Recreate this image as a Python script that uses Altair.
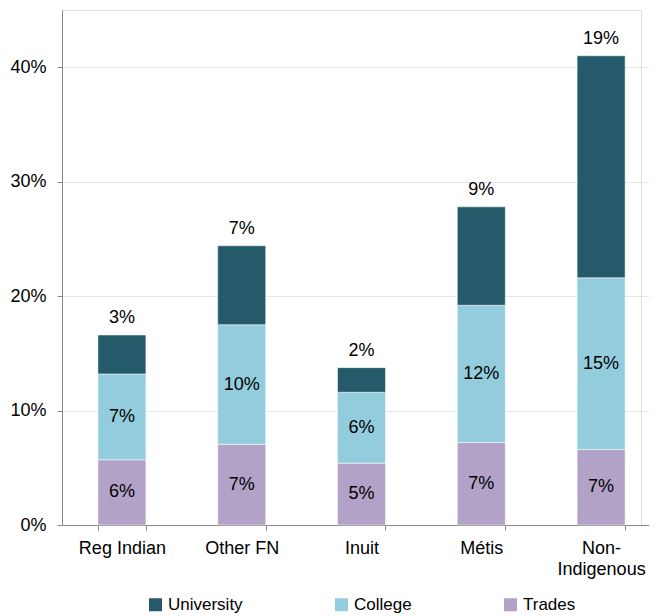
import altair as alt
import pandas as pd

groups = ["Reg Indian", "Other FN", "Inuit", "Métis", "Non-Indigenous"]
trades = [5.7, 7.05, 5.4, 7.2, 6.6]
college = [7.5, 10.45, 6.2, 12.0, 15.0]
university = [3.4, 6.9, 2.15, 8.6, 19.4]
trades_lbl = ["6%", "7%", "5%", "7%", "7%"]
college_lbl = ["7%", "10%", "6%", "12%", "15%"]
univ_lbl = ["3%", "7%", "2%", "9%", "19%"]
series = ["University", "College", "Trades"]
colors = ["#245a69", "#93cddd", "#b3a2c7"]

rows = []
for i, g in enumerate(groups):
    base = 0.0
    for s, vals, lbls, order in [("Trades", trades, trades_lbl, 0),
                                 ("College", college, college_lbl, 1),
                                 ("University", university, univ_lbl, 2)]:
        v = vals[i] / 100
        rows.append({"group": g, "series": s, "start": base, "end": base + v,
                     "mid": base + v / 2, "label": lbls[i], "order": order})
        base += v
df = pd.DataFrame(rows)

FONT = "Liberation Sans"
FS = 18

# the reference's category axis runs on past the right edge of the picture
x_scale = alt.Scale(domain=groups, range=[0, 599], paddingInner=0.6, paddingOuter=0.3)

x_enc = alt.X("group:N", sort=groups, title=None, scale=x_scale,
              axis=alt.Axis(labelAngle=0, tickBand="extent", domainColor="#888888",
                            tickColor="#888888", tickSize=5, labelFontSize=FS,
                            labelColor="#000000", labelPadding=9, labelFont=FONT,
                            labelExpr="datum.label == 'Non-Indigenous' ? ['Non-', 'Indigenous'] : datum.label",
                            labelLineHeight=21))

bars = alt.Chart(df).mark_bar(size=48, stroke="#ffffff", strokeWidth=0.5).encode(
    x=x_enc,
    y=alt.Y("start:Q", title=None,
            scale=alt.Scale(domain=[0, 0.45], nice=False),
            axis=alt.Axis(format=".0%", values=[0, 0.1, 0.2, 0.3, 0.4],
                          grid=True, gridColor="#e6e6e6", domainColor="#888888",
                          tickColor="#888888", tickSize=5, labelFontSize=FS,
                          labelColor="#000000", labelPadding=11, labelFont=FONT)),
    y2="end:Q",
    color=alt.Color("series:N", scale=alt.Scale(domain=series, range=colors),
                    legend=alt.Legend(title=None, orient="none", direction="horizontal",
                                      legendX=85, legendY=586,
                                      symbolType="square", symbolSize=169,
                                      symbolStrokeWidth=0, labelFontSize=17,
                                      labelFont=FONT, labelColor="#000000",
                                      labelOffset=4, columnPadding=90)),
    order=alt.Order("order:Q"),
)

inner = alt.Chart(df).transform_filter("datum.series != 'University'").mark_text(
    fontSize=FS, font=FONT, color="#000000", baseline="middle").encode(
    x=alt.X("group:N", sort=groups, scale=x_scale),
    y=alt.Y("mid:Q"),
    text="label:N",
)

top = alt.Chart(df).transform_filter("datum.series == 'University'").mark_text(
    fontSize=FS, font=FONT, color="#000000", baseline="bottom", dy=-8).encode(
    x=alt.X("group:N", sort=groups, scale=x_scale),
    y=alt.Y("end:Q"),
    text="label:N",
)

chart = alt.layer(bars, inner, top).properties(
    width=579, height=515,
    autosize=alt.AutoSizeParams(type="none"),
    padding={"left": 54, "top": 2, "right": 8, "bottom": 91},
).configure_view(stroke=None).configure(font=FONT)

chart.save("out.html", embed_options={"renderer": "svg", "actions": False})
